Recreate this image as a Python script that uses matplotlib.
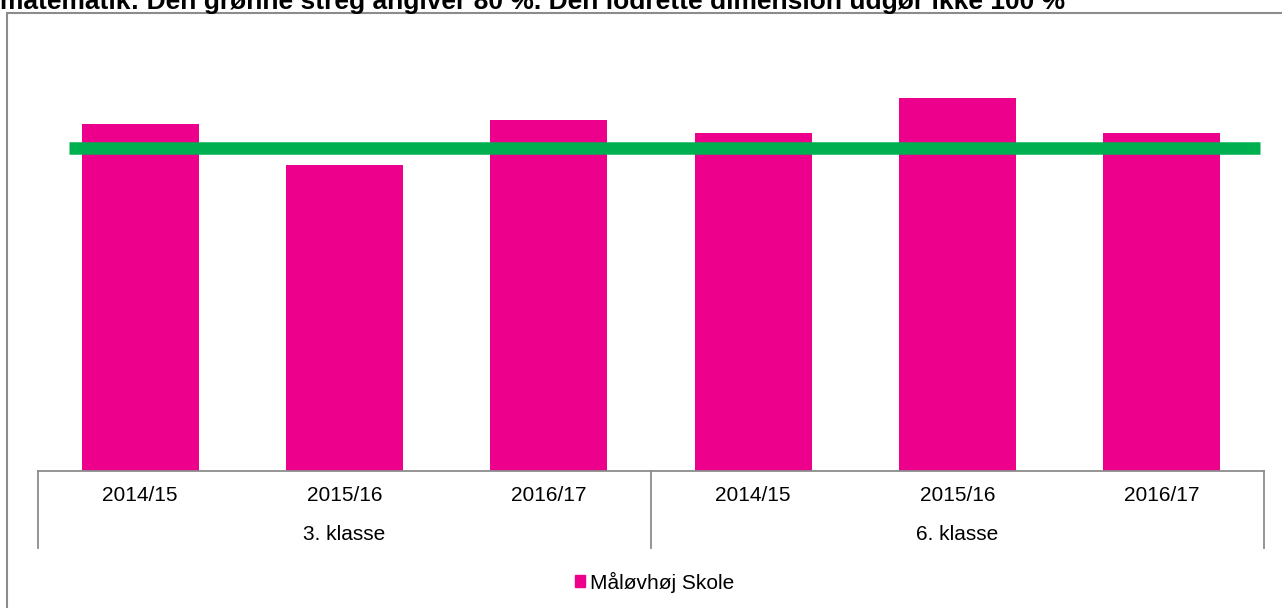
import matplotlib.pyplot as plt
from matplotlib.patches import Patch, Rectangle
from matplotlib.transforms import blended_transform_factory

plt.rcParams['font.family'] = ['Liberation Sans', 'DejaVu Sans']

# data (baseline = 0)
years = ['2014/15', '2015/16', '2016/17', '2014/15', '2015/16', '2016/17']
groups = ['3. klasse', '6. klasse']
values = [85.8, 75.7, 86.9, 83.6, 92.2, 83.6]
target = 80
title = 'matematik: Den grønne streg angiver 80 %. Den lodrette dimension udgør ikke 100 %'

W, H = 1282, 608
fig = plt.figure(figsize=(W / 100, H / 100), dpi=100)

# plot area in pixels
x0, x1 = 38, 1264
ybase, ytop = 470.5, 67
ax = fig.add_axes([x0 / W, (H - ybase) / H, (x1 - x0) / W, (ybase - ytop) / H])

xs = list(range(len(values)))
ax.bar(xs, values, width=0.573, color='#EC008C', zorder=2)
ax.axhline(target, xmin=(69 - x0) / (x1 - x0), xmax=(1260 - x0) / (x1 - x0),
           color='#00B050', lw=9, solid_capstyle='butt', zorder=3)

ax.set_xlim(-0.5, len(values) - 0.5)
ax.set_ylim(0, 100)
for s in ['top', 'right', 'left']:
    ax.spines[s].set_visible(False)
ax.spines['bottom'].set_color('#8c8c8c')
ax.spines['bottom'].set_linewidth(1.3)
ax.set_xticks([])
ax.set_yticks([])

# category labels
for x, lab in zip(xs, years):
    ax.annotate(lab, xy=(x, 0), xycoords=('data', 'axes fraction'),
                xytext=(0, -18), textcoords='offset points',
                ha='center', va='center', fontsize=15)
for i, g in enumerate(groups):
    ax.annotate(g, xy=(i * 3 + 1, 0), xycoords=('data', 'axes fraction'),
                xytext=(0, -46.4), textcoords='offset points',
                ha='center', va='center', fontsize=15)

# group separators
tr = blended_transform_factory(ax.transData, ax.transAxes)
sep_len = 77.5 / (ybase - ytop)
for xv in [-0.5, 2.5, 5.5]:
    ax.plot([xv, xv], [0, -sep_len], transform=tr, color='#8c8c8c',
            lw=1.3, clip_on=False)

# legend
fig.legend(handles=[Patch(color='#EC008C', label='Måløvhøj Skole')],
           loc='center', bbox_to_anchor=(654.5 / W, 1 - 582 / H),
           frameon=False, fontsize=15, handlelength=0.5, handleheight=0.5,
           handletextpad=0.25)

# chart border and title
fig.patches.append(Rectangle((7 / W, -0.05), 1.1, 1 - 13 / H + 0.05,
                             transform=fig.transFigure, fill=False,
                             edgecolor='#8c8c8c', lw=1.5))
fig.text(0, 1 - 9 / H, title, fontsize=19, fontweight='bold', va='baseline', ha='left')

fig.savefig('out.png', dpi=100)
